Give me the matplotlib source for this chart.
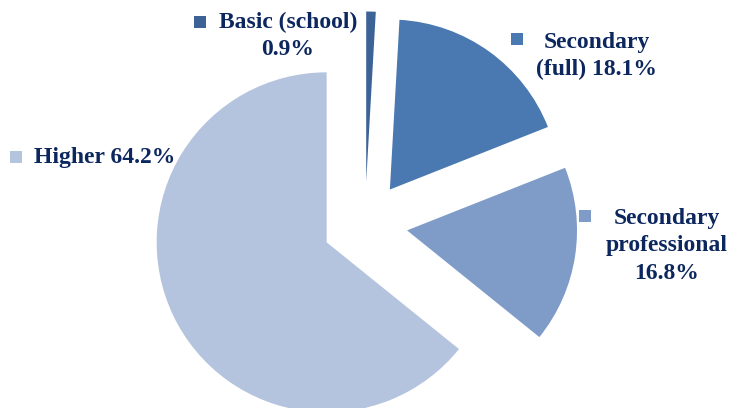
import matplotlib.pyplot as plt

# education level shares, %
labels = ['Basic (school)', 'Secondary (full)', 'Secondary professional', 'Higher']
shares = [0.9, 18.1, 16.8, 64.2]
colors = ['#3d6296', '#4a78b1', '#7f9cc8', '#b5c4de']
label_text = ['Basic (school)\n0.9%', 'Secondary\n(full) 18.1%',
              'Secondary\nprofessional\n16.8%', 'Higher 64.2%']

W, H = 729, 408
R = 170
fig = plt.figure(figsize=(W / 100, H / 100), dpi=100)
ax = fig.add_axes([0, 0, 1, 1])

# explode is given in data units here, so scale by the radius
ax.pie(shares, colors=colors, startangle=90, counterclock=False,
       explode=[0.25 * R] * 4, radius=R, center=(365, H - 224),
       wedgeprops=dict(linewidth=0))
ax.set_xlim(0, W)
ax.set_ylim(0, H)
ax.set_aspect('equal')
ax.axis('off')

txt_color = '#0c275e'
font = dict(family='Liberation Serif', weight='bold', size=17, color=txt_color)

# marker square + label text (pixel positions, y from top)
pos = [((200, 22), (288, 36), 'center'),
       ((517, 39), (597, 56), 'center'),
       ((585, 216), (667, 246), 'center'),
       ((16, 157), (34, 158), 'left')]
for (sq, tp, ha), c, t in zip(pos, colors, label_text):
    ax.scatter(sq[0], H - sq[1], marker='s', s=80, color=c, linewidths=0)
    ax.text(tp[0], H - tp[1], t, ha=ha, va='center', multialignment='center',
            linespacing=1.42, **font)

fig.savefig('out.png', dpi=100)
